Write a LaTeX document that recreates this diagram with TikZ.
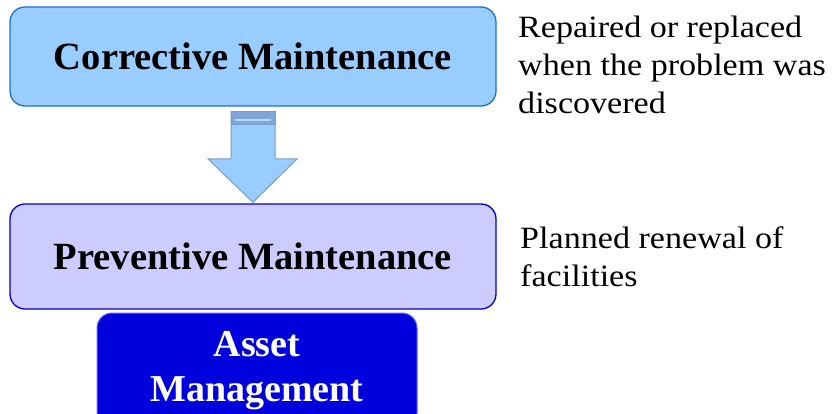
\documentclass[tikz,border=0pt]{standalone}
\usepackage{fontspec}
\setmainfont{Liberation Serif}
\newfontfamily\notefont[FakeStretch=1.10]{Liberation Serif}
\newfontfamily\boxfont[FakeStretch=1.0]{Liberation Serif}
\definecolor{topfill}{HTML}{99CCFF}
\definecolor{topline}{HTML}{1C6FD8}
\definecolor{midfill}{HTML}{CCCCFF}
\definecolor{midline}{HTML}{0000CC}
\definecolor{botfill}{HTML}{0000DD}
\definecolor{arrline}{HTML}{7A9CC8}
\definecolor{arrband}{HTML}{7FA6D8}
\begin{document}
\begin{tikzpicture}[x=1pt,y=-1pt,
  box/.style={rounded corners=15pt, line width=1.3pt, minimum width=486pt, minimum height=99pt, inner sep=0pt, font=\boxfont\bfseries\fontsize{38.5}{40}\selectfont},
  note/.style={anchor=north west, align=left, inner sep=0pt, font=\notefont\fontsize{31}{38}\selectfont}]
\useasboundingbox (0,0) rectangle (832,414);
\node[box, fill=topfill, draw=topline] (top) at (253,56.5) {Corrective Maintenance};
\node[box, fill=midfill, draw=midline, minimum height=105pt] (mid) at (253,256.5) {Preventive Maintenance};
\node[rounded corners=15pt, line width=1pt, fill=botfill, draw=blue!60, minimum width=320pt, minimum height=115pt, inner sep=0pt, text=white, align=center, font=\boxfont\bfseries\fontsize{38}{45}\selectfont] (asset) at (257,370.5) {Asset\\Management};
\node[note] (n1) at (518,16) {Repaired or replaced\\when the problem was\\discovered};
\node[note] (n2) at (520,226) {Planned renewal of\\facilities};
% down arrow from top box to middle box
\coordinate (as) at ([yshift=-5pt]top.south);
\coordinate (ae) at ([yshift=1pt]mid.north);
\draw[arrline, line width=1pt, fill=topfill]
  ([xshift=-22pt]as) -- ([xshift=22pt]as) -- ([xshift=22pt]as |- 0,159) -- ([xshift=44pt]as |- 0,159)
  -- (ae) -- ([xshift=-45pt]as |- 0,159) -- ([xshift=-22pt]as |- 0,159) -- cycle;
\fill[arrband] ([xshift=-22pt]as) rectangle ([xshift=22pt]as |- 0,125);
\fill[topfill!70!white] ([xshift=-18pt]as |- 0,119) rectangle ([xshift=18pt]as |- 0,121.5);
\draw[arrline, line width=1pt] ([xshift=-22pt]as) rectangle ([xshift=22pt]as |- 0,125);
\end{tikzpicture}
\end{document}
